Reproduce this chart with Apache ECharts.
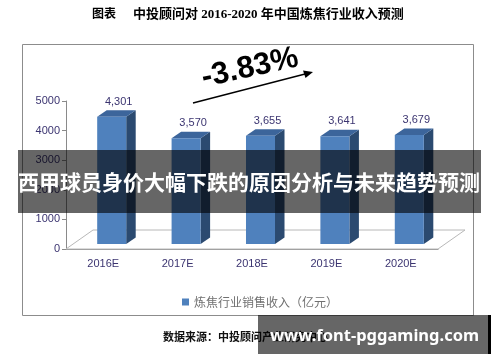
<!DOCTYPE html>
<html>
<head>
<meta charset="utf-8">
<script src="https://cdn.jsdelivr.net/npm/echarts@6/dist/echarts.min.js"></script>
<style>
html,body{margin:0;padding:0;background:#fff;}
#c{width:500px;height:362px;}
</style>
</head>
<body>
<div id="c"></div>
<script>
const categories = ['2016E', '2017E', '2018E', '2019E', '2020E'];
const revenue = [4301, 3570, 3655, 3641, 3679];
const yTicks = [0, 1000, 2000, 3000, 4000, 5000];
const seriesName = '炼焦行业销售收入（亿元）';
const changeLabel = '-3.83%';

const chart = echarts.init(document.getElementById('c'), null, {renderer: 'canvas'});

function fmt(v) { return v.toLocaleString('en-US'); }

function fitFont(text, family, weight, targetW) {
  const ctx = document.createElement('canvas').getContext('2d');
  ctx.font = weight + ' 20px ' + family;
  const w = ctx.measureText(text).width;
  return 20 * targetW / w;
}
const wmText = 'www.font-pggaming.com';
const wmFamily = '"Noto Sans", "Open Sans", "DejaVu Sans"';
const wmSize = fitFont(wmText, wmFamily, 'bold', 209);

function renderBar(params, api) {
  const i = api.value(0), v = api.value(1);
  const top = api.coord([i, v]);
  const base = api.coord([i, 0]);
  const catW = api.size([1, 0])[0];
  const w = catW * 0.39;
  const ox = 8.5, oy = -5;
  const dx = 9.5, dy = -6.5;
  const x0 = top[0] - w / 2 + ox, x1 = x0 + w;
  const yt = top[1] + oy, yb = base[1] + oy;
  return {
    type: 'group',
    children: [
      {type: 'polygon', shape: {points: [[x1, yt], [x1 + dx, yt + dy], [x1 + dx, yb + dy], [x1, yb]]},
       style: {fill: '#2b4a70'}},
      {type: 'polygon', shape: {points: [[x0, yt], [x0 + dx, yt + dy], [x1 + dx, yt + dy], [x1, yt]]},
       style: {fill: '#3c659b'}},
      {type: 'rect', shape: {x: x0, y: yt, width: w, height: yb - yt},
       style: {fill: '#4f81bd'}},
      {type: 'text', x: x0 + w / 2 + 7, y: yt - 15,
       style: {text: fmt(v), fill: '#3b3470', font: '11px "Liberation Sans", Arial', align: 'center', verticalAlign: 'middle'}}
    ]
  };
}

function renderFloor(params, api) {
  const catW = api.size([1, 0])[0];
  const p0 = api.coord([0, 0]);
  const p1 = api.coord([categories.length - 1, 0]);
  const l = p0[0] - catW / 2, r = p1[0] + catW / 2, y = p0[1];
  const dx = 27, dy = -19;
  return {
    type: 'polygon',
    shape: {points: [[l, y], [r, y], [r + dx, y + dy], [l + dx, y + dy]]},
    style: {fill: '#ffffff', stroke: '#b8b8b8', lineWidth: 1}
  };
}

const option = {
  backgroundColor: '#ffffff',
  animation: false,
  grid: {left: 66, right: 62, top: 101, bottom: 113},
  legend: {
    data: [{name: seriesName, icon: 'rect'}],
    left: 177, top: 291,
    itemWidth: 7, itemHeight: 7, itemGap: 4,
    textStyle: {fontFamily: '"Noto Sans CJK SC"', fontSize: 12, color: '#707070'}
  },
  xAxis: {
    type: 'category',
    data: categories,
    axisLine: {lineStyle: {color: '#8a8a8a'}},
    axisTick: {length: 4, lineStyle: {color: '#8a8a8a'}},
    axisLabel: {margin: 9, fontFamily: '"Liberation Sans", Arial', fontSize: 11, color: '#3b3470'}
  },
  yAxis: {
    type: 'value',
    min: yTicks[0], max: yTicks[yTicks.length - 1], interval: 1000,
    axisLine: {show: true, lineStyle: {color: '#8a8a8a'}},
    axisTick: {show: true, length: 4, lineStyle: {color: '#8a8a8a'}},
    splitLine: {show: false},
    axisLabel: {margin: 6, fontFamily: '"Liberation Sans", Arial', fontSize: 11, color: '#3b3470',
      formatter: v => String(v)}
  },
  series: [
    {type: 'custom', name: 'floor', renderItem: renderFloor, data: [[0, 0]], z: 1, silent: true},
    {type: 'custom', name: seriesName, renderItem: renderBar, itemStyle: {color: '#4f81bd'},
     data: categories.map((c, i) => [i, revenue[i]]), encode: {x: 0, y: 1}, z: 3}
  ],
  graphic: [
    {type: 'rect', z: 0, shape: {x: 22.5, y: 44.5, width: 451, height: 271}, style: {fill: 'none', stroke: '#8c8c8c', lineWidth: 1}},
    {type: 'text', x: 92, y: 15, style: {text: '图表', font: 'bold 12px "Liberation Serif", "Noto Sans CJK SC"', fill: '#000', verticalAlign: 'middle'}},
    {type: 'text', x: 133, y: 15, style: {text: '中投顾问对 2016-2020 年中国炼焦行业收入预测', font: 'bold 13px "Liberation Serif", "Noto Sans CJK SC"', fill: '#000', verticalAlign: 'middle'}},
    {type: 'text', x: 250, y: 68, rotation: 0.215, z: 20,
     style: {text: changeLabel, font: 'bold 31px "Liberation Sans", Arial', fill: '#000', align: 'center', verticalAlign: 'middle'}},
    {type: 'line', z: 20, shape: {x1: 193, y1: 103, x2: 307, y2: 73.5}, style: {stroke: '#000', lineWidth: 1.3}},
    {type: 'polygon', z: 20, shape: {points: [[313, 72], [303, 70.5], [305.5, 78]]}, style: {fill: '#000'}},
    {type: 'text', x: 163, y: 337, z: 20, style: {text: '数据来源：中投顾问产业研究中心', font: 'bold 11px "Noto Sans CJK SC"', fill: '#111', verticalAlign: 'middle'}},
    {type: 'rect', z: 100, shape: {x: 18, y: 150, width: 463, height: 63}, style: {fill: 'rgba(0,0,0,0.6)'}},
    {type: 'text', x: 249, y: 182, z: 101, style: {text: '西甲球员身价大幅下跌的原因分析与未来趋势预测', font: 'bold 21px "Noto Sans CJK SC"', fill: '#fff', align: 'center', verticalAlign: 'middle'}},
    {type: 'rect', z: 100, shape: {x: 258, y: 315, width: 231, height: 39}, style: {fill: 'rgba(0,0,0,0.6)'}},
    {type: 'rect', z: 101, shape: {x: 488, y: 315, width: 3, height: 39}, style: {fill: '#000'}},
    {type: 'text', x: 374.5, y: 336, z: 101, style: {text: wmText, font: 'bold ' + wmSize.toFixed(1) + 'px ' + wmFamily, fill: '#fff', align: 'center', verticalAlign: 'middle'}}
  ]
};
chart.setOption(option);
</script>
</body>
</html>
